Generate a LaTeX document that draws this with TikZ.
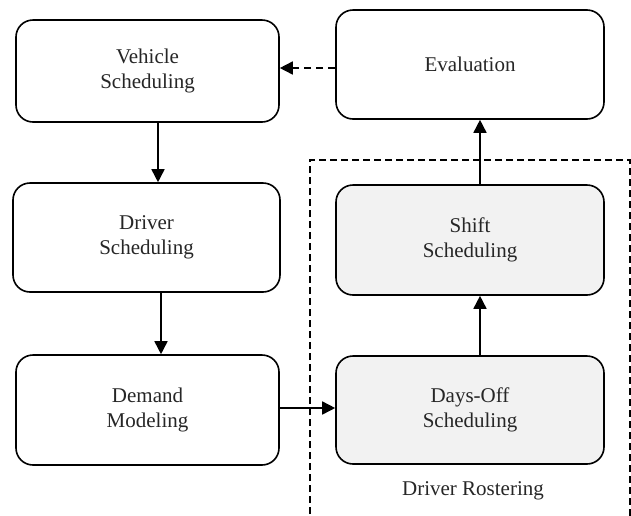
\documentclass[tikz,border=0pt]{standalone}
\usepackage{fontspec}
\setmainfont{Liberation Serif}
\usetikzlibrary{arrows.meta}
\begin{document}
\begin{tikzpicture}[x=1pt,y=-1pt,
  box/.style={draw=black,line width=1.6pt,rounded corners=17pt,fill=white,
    align=center,inner sep=0pt,font=\fontsize{21}{24.5}\selectfont,text=black!85},
  graybox/.style={box,fill=black!5},
  arr/.style={line width=1.6pt,-{Triangle[length=13pt,width=13pt]}},
  dasharr/.style={arr,dash pattern=on 7pt off 5pt},
  frame/.style={line width=1.4pt,dash pattern=on 7pt off 4pt}]
\useasboundingbox (0,0) rectangle (631,515);
\clip (0,0) rectangle (631,515);
\node[box,minimum width=263pt,minimum height=102pt] (veh) at (147.5,71) {Vehicle\\Scheduling};
\node[box,minimum width=268pt,minimum height=109pt] (eval) at (470,64.5) {Evaluation};
\node[box,minimum width=267pt,minimum height=109pt] (drv) at (146.5,237.5) {Driver\\Scheduling};
\node[graybox,minimum width=268pt,minimum height=110pt] (shift) at (470,240) {Shift\\Scheduling};
\node[box,minimum width=263pt,minimum height=110pt] (dem) at (147.5,410) {Demand\\Modeling};
\node[graybox,minimum width=268pt,minimum height=108pt] (days) at (470,410) {Days-Off\\Scheduling};
\node[font=\fontsize{21}{24.5}\selectfont,text=black!85] (rost) at (473,491) {Driver Rostering};
\coordinate (x1) at (158,0);
\coordinate (x2) at (161,0);
\coordinate (x3) at (480,0);
\coordinate (y1) at (0,68);
\coordinate (y2) at (0,408);
\coordinate (fa) at (310,525);
\coordinate (fb) at (310,160);
\coordinate (fc) at (630,160);
\coordinate (fd) at (630,525);
\draw[frame] (fa) -- (fb) -- (fc) -- (fd);
\draw[arr] (veh.south -| x1) -- (drv.north -| x1);
\draw[arr] (drv.south -| x2) -- (dem.north -| x2);
\draw[arr] (dem.east |- y2) -- (days.west |- y2);
\draw[arr] (days.north -| x3) -- (shift.south -| x3);
\draw[arr] (shift.north -| x3) -- (eval.south -| x3);
\draw[dasharr] (eval.west |- y1) -- (veh.east |- y1);
\end{tikzpicture}
\end{document}
